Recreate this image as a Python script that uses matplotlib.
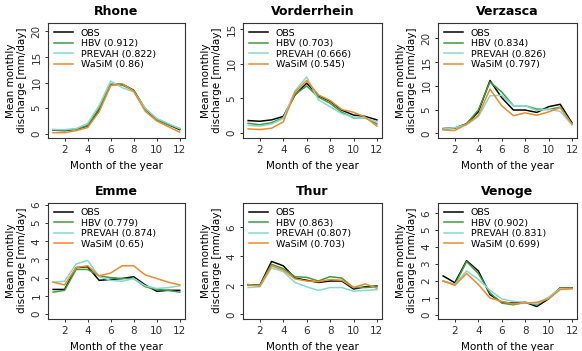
import matplotlib.pyplot as plt

months = list(range(1, 13))

catchments = ["Rhone", "Vorderrhein", "Verzasca", "Emme", "Thur", "Venoge"]
model_names = ["OBS", "HBV", "PREVAH", "WaSiM"]

# skill scores shown in the legends (HBV, PREVAH, WaSiM)
scores = {
    "Rhone": ["0.912", "0.822", "0.86"],
    "Vorderrhein": ["0.703", "0.666", "0.545"],
    "Verzasca": ["0.834", "0.826", "0.797"],
    "Emme": ["0.779", "0.874", "0.65"],
    "Thur": ["0.863", "0.807", "0.703"],
    "Venoge": ["0.902", "0.831", "0.699"],
}

# mean monthly discharge [mm/day]
rhone_obs = [0.7, 0.6, 0.9, 1.5, 4.7, 9.6, 9.7, 8.5, 4.8, 2.8, 1.8, 0.8]
rhone_hbv = [0.8, 0.7, 0.9, 1.6, 5.0, 9.7, 9.5, 8.5, 4.9, 2.8, 1.8, 1.0]
rhone_prevah = [0.8, 0.8, 1.0, 2.0, 5.5, 10.3, 9.0, 8.2, 5.0, 3.0, 2.0, 1.0]
rhone_wasim = [0.2, 0.2, 0.6, 1.2, 4.3, 9.4, 9.8, 8.3, 4.4, 2.5, 1.4, 0.3]

vorder_obs = [1.8, 1.7, 1.9, 2.4, 5.5, 7.2, 5.4, 4.6, 3.3, 2.6, 2.4, 1.9]
vorder_hbv = [1.4, 1.2, 1.5, 2.2, 5.6, 6.8, 5.2, 4.3, 3.0, 2.2, 2.2, 1.3]
vorder_prevah = [1.1, 1.0, 1.3, 2.1, 6.1, 8.1, 4.8, 3.8, 2.8, 2.3, 2.2, 1.6]
vorder_wasim = [0.6, 0.5, 0.7, 1.6, 5.9, 7.6, 5.5, 4.7, 3.4, 3.0, 2.3, 1.0]

verz_obs = [1.0, 1.1, 2.0, 4.5, 11.1, 7.5, 4.9, 4.9, 4.4, 5.6, 6.1, 2.2]
verz_hbv = [0.9, 1.1, 2.0, 4.9, 10.8, 8.7, 5.8, 5.8, 5.1, 5.0, 5.5, 1.9]
verz_prevah = [0.9, 1.2, 1.8, 3.5, 7.9, 8.0, 5.8, 5.8, 4.8, 5.1, 4.6, 1.8]
verz_wasim = [0.7, 0.6, 1.9, 3.8, 9.3, 5.8, 3.7, 4.3, 3.8, 4.5, 5.4, 1.9]

emme_obs = [1.35, 1.35, 2.55, 2.6, 1.85, 1.9, 1.95, 2.05, 1.6, 1.25, 1.3, 1.3]
emme_hbv = [1.2, 1.3, 2.45, 2.45, 2.1, 2.0, 1.95, 1.95, 1.5, 1.35, 1.3, 1.2]
emme_prevah = [1.75, 1.8, 2.75, 2.95, 2.05, 1.85, 1.8, 1.95, 1.55, 1.4, 1.45, 1.55]
emme_wasim = [1.75, 1.6, 2.55, 2.65, 2.1, 2.25, 2.65, 2.65, 2.15, 1.95, 1.75, 1.6]

thur_obs = [2.05, 2.0, 3.65, 3.35, 2.5, 2.35, 2.2, 2.3, 2.3, 1.75, 1.9, 1.95]
thur_hbv = [2.0, 2.0, 3.45, 3.15, 2.6, 2.55, 2.3, 2.6, 2.5, 1.85, 1.85, 1.9]
thur_prevah = [1.85, 1.9, 3.2, 2.95, 2.2, 1.9, 1.65, 1.85, 1.85, 1.6, 1.65, 1.7]
thur_wasim = [2.05, 1.95, 3.35, 3.05, 2.45, 2.3, 2.25, 2.4, 2.35, 1.85, 2.1, 1.8]

venoge_obs = [2.3, 1.9, 3.2, 2.6, 1.2, 0.75, 0.7, 0.75, 0.5, 0.95, 1.6, 1.6]
venoge_hbv = [2.0, 1.8, 3.15, 2.45, 1.3, 0.7, 0.6, 0.75, 0.6, 1.0, 1.6, 1.6]
venoge_prevah = [2.0, 1.8, 2.6, 2.1, 1.45, 0.95, 0.8, 0.75, 0.65, 1.05, 1.55, 1.55]
venoge_wasim = [2.0, 1.75, 2.45, 1.8, 1.0, 0.8, 0.65, 0.7, 0.75, 0.95, 1.5, 1.55]

series = {
    "Rhone": [rhone_obs, rhone_hbv, rhone_prevah, rhone_wasim],
    "Vorderrhein": [vorder_obs, vorder_hbv, vorder_prevah, vorder_wasim],
    "Verzasca": [verz_obs, verz_hbv, verz_prevah, verz_wasim],
    "Emme": [emme_obs, emme_hbv, emme_prevah, emme_wasim],
    "Thur": [thur_obs, thur_hbv, thur_prevah, thur_wasim],
    "Venoge": [venoge_obs, venoge_hbv, venoge_prevah, venoge_wasim],
}

y_ticks = {
    "Rhone": [0, 5, 10, 15, 20],
    "Vorderrhein": [0, 5, 10, 15],
    "Verzasca": [0, 5, 10, 15, 20],
    "Emme": [0, 1, 2, 3, 4, 5, 6],
    "Thur": [0, 2, 4, 6],
    "Venoge": [0, 1, 2, 3, 4, 5, 6],
}
y_limits = {
    "Rhone": (-0.84, 21.65),
    "Vorderrhein": (-0.72, 15.9),
    "Verzasca": (-0.99, 23.2),
    "Emme": (-0.26, 6.12),
    "Thur": (-0.30, 7.7),
    "Venoge": (-0.22, 6.62),
}

colors = ["black", "#3a9e3a", "#86d8d0", "#f0892a"]

fig = plt.figure(figsize=(5.82, 3.51), dpi=100)

lefts = [0.0825, 0.4175, 0.7526]
widths = [0.235, 0.239, 0.239]
bottoms = [0.6068, 0.092]
heights = [0.3276, 0.3305]

for i, name in enumerate(catchments):
    row, col = divmod(i, 3)
    ax = fig.add_axes([lefts[col], bottoms[row], widths[col], heights[row]])
    labels = ["OBS"] + [f"{m} ({s})" for m, s in zip(model_names[1:], scores[name])]
    for vals, c, lab in zip(series[name], colors, labels):
        ax.plot(months, vals, color=c, lw=1.1, label=lab)

    ax.set_xlim(0.56, 12.44)
    ax.set_ylim(*y_limits[name])
    ax.set_xticks([2, 4, 6, 8, 10, 12])
    ax.set_yticks(y_ticks[name])
    ax.set_yticklabels([str(t) for t in y_ticks[name]], rotation=90, va="center")
    ax.tick_params(labelsize=7.5, length=2.5, width=0.7, colors="#333333")
    ax.tick_params(axis="x", pad=2.5)
    ax.tick_params(axis="y", pad=2.3)
    for sp in ax.spines.values():
        sp.set_linewidth(0.8)
        sp.set_color("#333333")

    ax.set_title(name, fontsize=9, fontweight="bold", pad=5.5)
    ax.set_xlabel("Month of the year", fontsize=7.5, labelpad=4.5)
    ax.set_ylabel("Mean monthly\ndischarge [mm/day]", fontsize=7.5, labelpad=3)
    ax.legend(loc="upper left", frameon=False, fontsize=6.8, handlelength=2.0,
              handletextpad=0.85, labelspacing=0.15, borderaxespad=0.2)

fig.savefig("out.png", dpi=100)
